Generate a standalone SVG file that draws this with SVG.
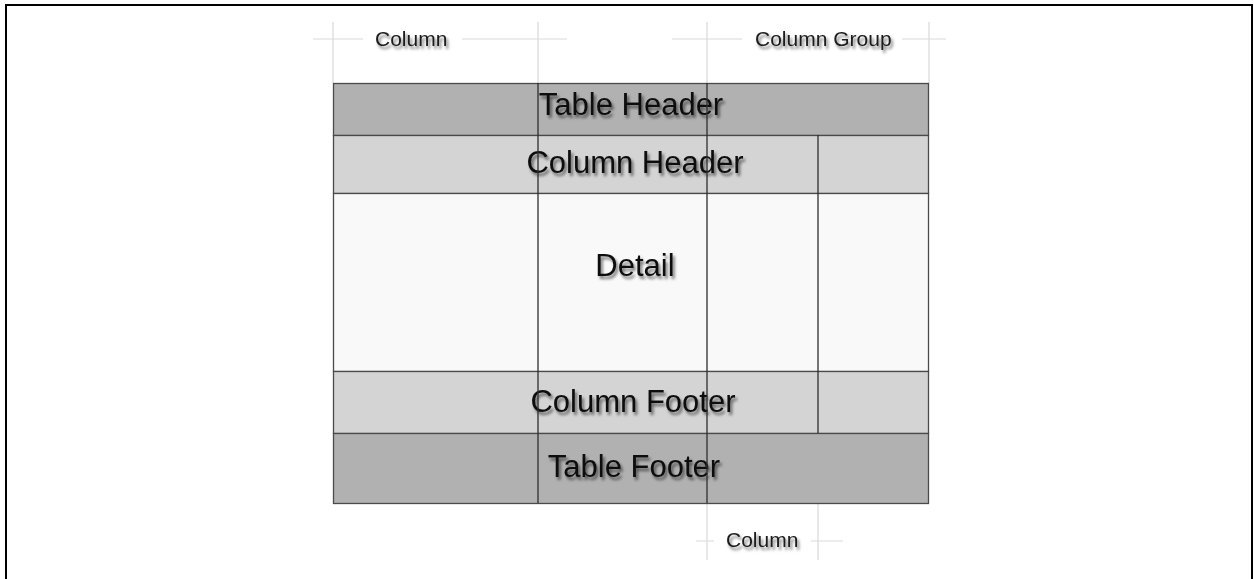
<svg xmlns="http://www.w3.org/2000/svg" width="1254" height="579" viewBox="0 0 1254 579">
<defs>
<filter id="sh" x="-20%" y="-40%" width="140%" height="180%">
<feDropShadow dx="2" dy="3" stdDeviation="1.8" flood-color="#000" flood-opacity="0.55"/>
</filter>
<style>
.big{font-family:"Liberation Sans",Arial,sans-serif;font-size:31px;fill:#111;text-anchor:middle;filter:url(#sh)}
.sm{font-family:"Liberation Sans",Arial,sans-serif;font-size:21px;fill:#1a1a1a;filter:url(#sh)}
.guide{stroke:#d9d9d9;stroke-width:1.2;fill:none}
.cell{stroke:#4a4a4a;stroke-width:1.3}
.col{stroke:#2e2e2e;stroke-width:1.3;fill:none}
</style>
</defs>
<rect width="1254" height="579" fill="#fff"/>
<path d="M6,579 V5 H1252 V579" fill="none" stroke="#000" stroke-width="2"/>

<g id="guides">
<path class="guide" d="M333,22 V83 M538,22 V83 M707,22 V83 M929,22 V83 M707,503 V560 M818,503 V560"/>
<path class="guide" d="M313,39 H363 M462,39 H567 M672,39 H742 M902,39 H946 M696,541 H714 M811,541 H843"/>
</g>

<g id="table-header"><rect class="cell" x="333.5" y="83.5" width="595" height="52" fill="#b1b1b1"/><text class="big" x="631" y="115">Table Header</text></g>
<g id="column-header"><rect class="cell" x="333.5" y="135.5" width="595" height="58" fill="#d4d4d4"/><text class="big" x="635" y="173">Column Header</text></g>
<g id="detail"><rect class="cell" x="333.5" y="193.5" width="595" height="178" fill="#f9f9f9"/><text class="big" x="635" y="276">Detail</text></g>
<g id="column-footer"><rect class="cell" x="333.5" y="371.5" width="595" height="62" fill="#d4d4d4"/><text class="big" x="633" y="412">Column Footer</text></g>
<g id="table-footer"><rect class="cell" x="333.5" y="433.5" width="595" height="70" fill="#b1b1b1"/><text class="big" x="634" y="477">Table Footer</text></g>

<g id="connectors">
<path class="col" d="M538,83 V503 M707,83 V503 M818,135 V433"/>
</g>

<g id="labels">
<text class="sm" x="375" y="46">Column</text>
<text class="sm" x="755" y="46">Column Group</text>
<text class="sm" x="726" y="547">Column</text>
</g>
</svg>
